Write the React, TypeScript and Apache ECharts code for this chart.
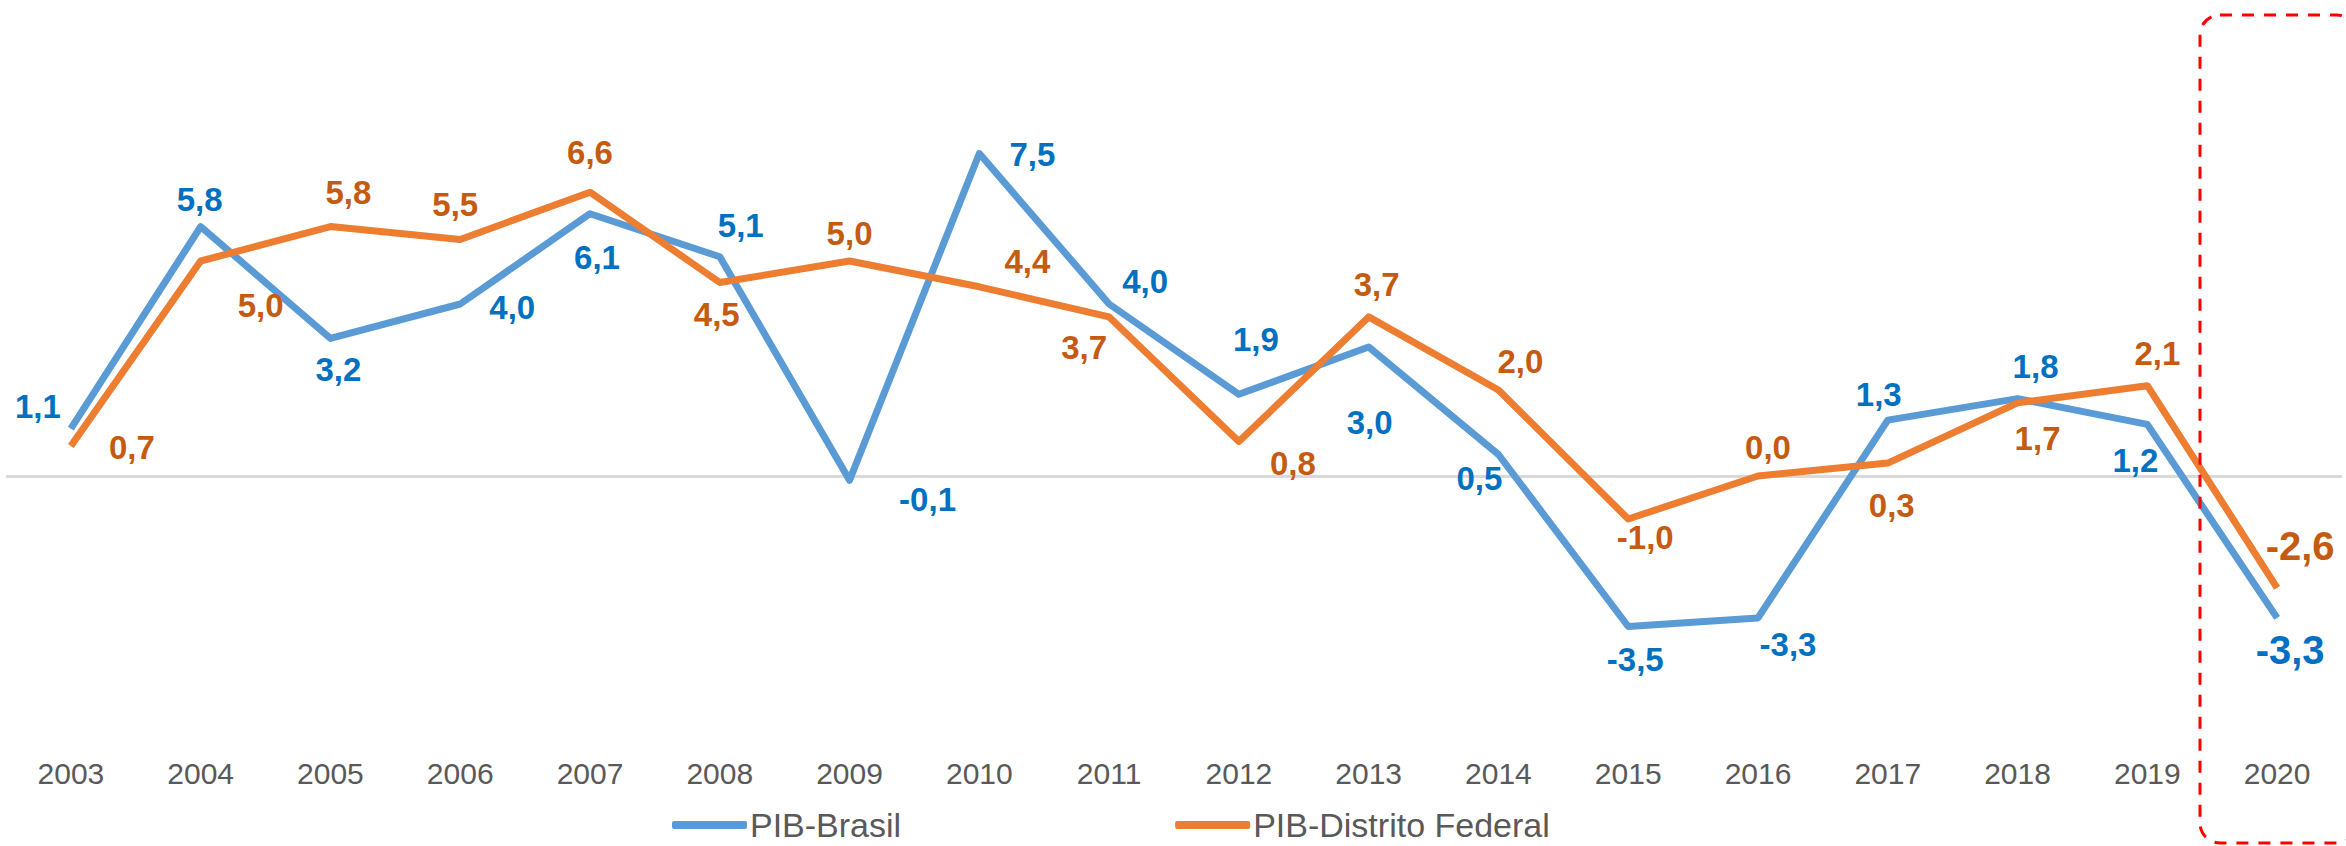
import React, { useEffect, useRef } from "react";
import * as echarts from "echarts";

const years = ["2003","2004","2005","2006","2007","2008","2009","2010","2011","2012","2013","2014","2015","2016","2017","2018","2019","2020"];
const pibBrasil = [1.1, 5.8, 3.2, 4.0, 6.1, 5.1, -0.1, 7.5, 4.0, 1.9, 3.0, 0.5, -3.5, -3.3, 1.3, 1.8, 1.2, -3.3];
const pibDF = [0.7, 5.0, 5.8, 5.5, 6.6, 4.5, 5.0, 4.4, 3.7, 0.8, 3.7, 2.0, -1.0, 0.0, 0.3, 1.7, 2.1, -2.6];
const seriesNames = ["PIB-Brasil", "PIB-Distrito Federal"];

// label placement (offsets from point, px)
const brasilLabelOffset: [number, number][] = [
  [-33, -22], [-1, -27], [8, 31], [52, 3], [7, 44], [21, -31], [78, 19], [53, 1], [36, -23],
  [17, -55], [1, 75], [-19, 24], [7, 33], [30, 27], [-9, -26], [18, -32], [-12, 36], [13, 32],
];
const dfLabelOffset: [number, number][] = [
  [61, 2], [60, 44], [18, -34], [-5, -35], [0, -40], [-3, 32], [0, -28], [48, -25], [-25, 31],
  [54, 22], [8, -32], [22, -29], [17, 18], [10, -29], [4, 42], [20, 36], [10, -32], [23, -42],
];

const FONT = "'Liberation Sans', Arial, sans-serif";
const fmt = (v: number) => v.toFixed(1).replace(".", ",");

function buildData(values: number[], offsets: [number, number][], color: string) {
  return values.map((v, i) => {
    const last = i === values.length - 1;
    return {
      value: v,
      label: {
        show: true,
        position: "inside",
        offset: offsets[i],
        formatter: () => fmt(v),
        color,
        fontWeight: "bold",
        fontSize: last ? 40 : 33,
        fontFamily: FONT,
      },
    };
  });
}

export default function App() {
  const ref = useRef<HTMLDivElement>(null);
  useEffect(() => {
    if (!ref.current) return;
    const chart = echarts.init(ref.current, undefined, { renderer: "svg" });
    chart.setOption({
      animation: false,
      backgroundColor: "#ffffff",
      textStyle: { fontFamily: FONT },
      grid: { left: 6, right: 4, top: 46, bottom: 112, containLabel: false },
      xAxis: {
        type: "category",
        data: years,
        boundaryGap: true,
        axisLine: { show: false },
        axisTick: { show: false },
        splitLine: { show: false },
        axisLabel: { color: "#595959", fontSize: 30, margin: 24, fontFamily: FONT },
      },
      yAxis: { type: "value", min: -6, max: 10, show: false, splitLine: { show: false } },
      legend: {
        data: seriesNames,
        left: 672,
        top: 808,
        padding: 0,
        itemWidth: 75,
        itemHeight: 8,
        itemGap: 274,
        icon: "roundRect",
        textStyle: { color: "#595959", fontSize: 34, fontFamily: FONT, lineHeight: 34, padding: [0, 0, 0, -2] },
      },
      graphic: [
        {
          type: "rect",
          z: 100,
          shape: { x: 2200, y: 15, width: 157, height: 828, r: 20 },
          style: { fill: "none", stroke: "#FF0000", lineWidth: 3, lineDash: [12, 10] },
        },
      ],
      series: [
        {
          name: "zero",
          type: "line",
          z: 1,
          data: [],
          markLine: {
            z: 1,
            silent: true,
            symbol: ["none", "none"],
            label: { show: false },
            lineStyle: { color: "#D9D9D9", width: 3, type: "solid" },
            data: [{ yAxis: 0 }],
          },
        },
        {
          name: seriesNames[0],
          type: "line",
          z: 3,
          data: buildData(pibBrasil, brasilLabelOffset, "#0070C0"),
          symbol: "circle",
          symbolSize: 1,
          showSymbol: true,
          showAllSymbol: true,
          itemStyle: { color: "#5B9BD5" },
          lineStyle: { color: "#5B9BD5", width: 7, join: "round" },
        },
        {
          name: seriesNames[1],
          type: "line",
          z: 4,
          data: buildData(pibDF, dfLabelOffset, "#C55A11"),
          symbol: "circle",
          symbolSize: 1,
          showSymbol: true,
          showAllSymbol: true,
          itemStyle: { color: "#ED7D31" },
          lineStyle: { color: "#ED7D31", width: 7, join: "round" },
        },
      ],
    });
    return () => chart.dispose();
  }, []);
  return (
    <div
      ref={ref}
      style={{ position: "absolute", left: 0, top: 0, width: 2346, height: 846 }}
    />
  );
}
